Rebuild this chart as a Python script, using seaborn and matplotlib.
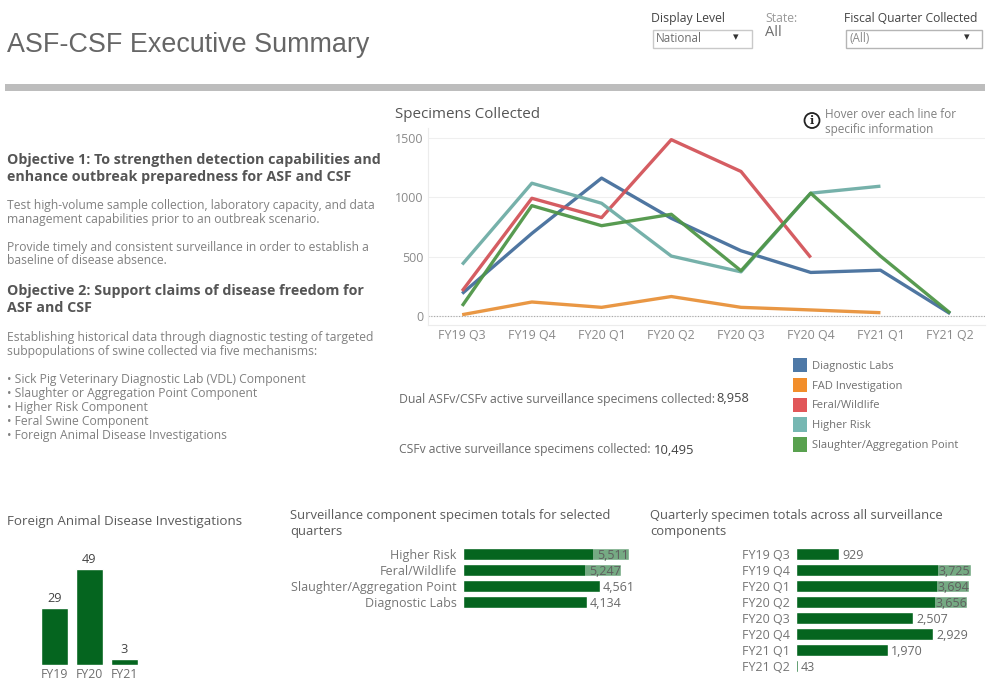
import matplotlib
matplotlib.use("Agg")
import matplotlib.pyplot as plt
from matplotlib.patches import Patch, Rectangle, Circle
import pandas as pd
import seaborn as sns

W, H = 992, 699
sns.set_theme(style="white")
plt.rcParams["font.family"] = ["Open Sans", "DejaVu Sans"]

quarters = ["FY19 Q3", "FY19 Q4", "FY20 Q1", "FY20 Q2", "FY20 Q3", "FY20 Q4", "FY21 Q1", "FY21 Q2"]
diagnostic_labs = [189, 696, 1162, 823, 550, 367, 386, 20]
fad_investigation = [11, 118, 73, 164, 73, 51, 28, None]
feral_wildlife = [211, 992, 829, 1486, 1218, 493, None, None]
higher_risk = [434, 1119, 950, 505, 372, 1035, 1094, None]
slaughter_point = [85, 930, 761, 857, 381, 1035, 505, 25]

component_names = ["Diagnostic Labs", "FAD Investigation", "Feral/Wildlife", "Higher Risk", "Slaughter/Aggregation Point"]
component_colors = ["#4e79a7", "#f28e2b", "#e15759", "#76b7b2", "#59a14f"]
line_colors = ["#456f9c", "#e8923a", "#d3545a", "#6fada6", "#4f9648"]

fad_years = ["FY19", "FY20", "FY21"]
fad_counts = [29, 49, 3]

total_names = ["Higher Risk", "Feral/Wildlife", "Slaughter/Aggregation Point", "Diagnostic Labs"]
total_values = [5511, 5247, 4561, 4134]

quarter_totals = [929, 3725, 3694, 3656, 2507, 2929, 1970, 43]

GREEN = "#05651f"
DARK = "#555555"
MID = "#6e6e6e"
LIGHT = "#8a8a8a"


def box(left, top, right, bottom):
    return [left / W, 1 - bottom / H, (right - left) / W, (bottom - top) / H]


fig = plt.figure(figsize=(W / 100, H / 100), dpi=100, facecolor="white")

# page layer addressed in pixels
page = fig.add_axes([0, 0, 1, 1], zorder=0)
page.set_xlim(0, W)
page.set_ylim(H, 0)
page.axis("off")


def put(x, y, s, size=8, color=MID, weight="normal", ha="left", family=None):
    kw = {"family": family} if family else {}
    return page.text(x, y + 1, s, fontsize=size, color=color, fontweight=weight, ha=ha, va="center", **kw)


put(7, 44, "ASF-CSF Executive Summary", size=19.4, color="#666666", family="Liberation Sans")
page.add_patch(Rectangle((5, 83.5), 980, 7, fc="#bdbdbd", ec="none"))

put(651, 17.5, "Display Level", size=8.8, color="#444444")
page.add_patch(Rectangle((652.5, 29.5), 99, 18, fc="white", ec="#c9c9c9", lw=1))
put(656, 38, "National", size=8.4, color=MID)
put(736, 36.5, "\u25be", size=8, color="#333333", family="DejaVu Sans", ha="center")
put(765, 17.5, "State:", size=8.8, color="#9a9a9a")
put(765, 32, "All", size=10.5, color=MID)
put(844, 17.5, "Fiscal Quarter Collected", size=8.75, color="#444444")
page.add_patch(Rectangle((845.5, 29.5), 136, 18, fc="white", ec="#b5b5b5", lw=1))
put(849, 38, "(All)", size=8.4, color=LIGHT)
put(967, 36.5, "\u25be", size=8, color="#333333", family="DejaVu Sans", ha="center")

# left text column
put(7, 159, "Objective 1: To strengthen detection capabilities and", size=10.25, color=DARK, weight="bold")
put(7, 176, "enhance outbreak preparedness for ASF and CSF", size=10.25, color=DARK, weight="bold")
body = [
    (204, "Test high-volume sample collection, laboratory capacity, and data"),
    (218, "management capabilities prior to an outbreak scenario."),
    (246, "Provide timely and consistent surveillance in order to establish a"),
    (260, "baseline of disease absence."),
    (336, "Establishing historical data through diagnostic testing of targeted"),
    (350, "subpopulations of swine collected via five mechanisms:"),
    (378, "\u2022 Sick Pig Veterinary Diagnostic Lab (VDL) Component"),
    (392, "\u2022 Slaughter or Aggregation Point Component"),
    (406, "\u2022 Higher Risk Component"),
    (420, "\u2022 Feral Swine Component"),
    (434, "\u2022 Foreign Animal Disease Investigations"),
]
for y, s in body:
    put(7, y, s, size=8.75, color="#808080")
put(7, 290, "Objective 2: Support claims of disease freedom for", size=10.25, color=DARK, weight="bold")
put(7, 307, "ASF and CSF", size=10.25, color=DARK, weight="bold")

put(395, 113, "Specimens Collected", size=10.9, color=DARK)
page.add_patch(Circle((812, 120.5), 7.5, fc="white", ec="#222222", lw=1.3))
put(812, 119.5, "i", size=8, color="#222222", weight="bold", ha="center", family="DejaVu Serif")
put(825, 114, "Hover over each line for", size=8.5, color="#808080")
put(825, 128, "specific information", size=8.5, color="#808080")

put(399, 398, "Dual ASFv/CSFv active surveillance specimens collected:", size=8.8, color="#6a6a6a")
put(716, 398, "8,958", size=9.3, color="#444444")
put(399, 449, "CSFv active surveillance specimens collected:", size=8.7, color="#6a6a6a")
put(654, 449, "10,495", size=9.4, color="#444444")

put(7, 521, "Foreign Animal Disease Investigations", size=9.6, color="#5a5a5a")
put(290, 514, "Surveillance component specimen totals for selected", size=9.4, color="#5a5a5a")
put(290, 530, "quarters", size=9.4, color="#5a5a5a")
put(650, 514, "Quarterly specimen totals across all surveillance", size=9.4, color="#5a5a5a")
put(650, 530, "components", size=9.4, color="#5a5a5a")

# line chart
line_df = pd.DataFrame({
    "Quarter": quarters * 5,
    "Component": [n for n in component_names for _ in quarters],
    "Specimens": diagnostic_labs + fad_investigation + feral_wildlife + higher_risk + slaughter_point,
}).dropna()
ax = fig.add_axes(box(428, 128, 985, 325), zorder=1)
ax.patch.set_alpha(0)
sns.lineplot(data=line_df, x="Quarter", y="Specimens", hue="Component", hue_order=component_names,
             palette=line_colors, linewidth=2.4, alpha=0.95, legend=False, sort=False, ax=ax,
             solid_capstyle="butt", errorbar=None)
k = 178 / 1500
ax.set_xlim(-0.49, 7.5)
ax.set_ylim(-9 / k, 188 / k)
ax.set_yticks([0, 500, 1000, 1500])
ax.set_xlabel("")
ax.set_ylabel("")
ax.grid(axis="y", color="#efefef", lw=0.8)
ax.set_axisbelow(True)
ax.axhline(0, color="#a8a8a8", lw=0.8, ls=(0, (1, 1.5)), zorder=1.5)
for side in ("top", "right"):
    ax.spines[side].set_visible(False)
for side in ("left", "bottom"):
    ax.spines[side].set_color("#ececec")
    ax.spines[side].set_linewidth(0.8)
ax.tick_params(axis="both", length=0, labelsize=8.9, labelcolor=LIGHT, pad=3)

# legend
leg = fig.legend(handles=[Patch(fc=c, ec="none", label=n) for n, c in zip(component_names, component_colors)],
                 loc="upper left", bbox_to_anchor=(793 / W, 1 - 358 / H), frameon=False,
                 fontsize=8, labelcolor="#707070", handlelength=1.26, handleheight=1.61,
                 handletextpad=0.45, labelspacing=0.49, borderpad=0, borderaxespad=0)


def clean(a):
    a.patch.set_alpha(0)
    for s in a.spines.values():
        s.set_visible(False)
    a.set_xlabel("")
    a.set_ylabel("")
    a.grid(False)


# FAD column chart
ax_fad = fig.add_axes(box(37, 545, 142, 665), zorder=1)
sns.barplot(x=fad_years, y=fad_counts, color=GREEN, saturation=1, width=0.77, ax=ax_fad)
ax_fad.set_ylim(0, 120 / 1.96)
ax_fad.set_yticks([])
clean(ax_fad)
ax_fad.tick_params(axis="x", length=0, labelsize=8.8, labelcolor=MID, pad=2)
ax_fad.bar_label(ax_fad.containers[0], padding=2, fontsize=9.2, color="#444444")


def hbar(a, names, values, xmax, fit_limit, chip):
    sns.barplot(x=values, y=names, color=GREEN, saturation=1, width=0.75, ax=a, orient="h")
    a.set_xticks([])
    clean(a)
    a.tick_params(axis="y", length=0, labelsize=9, labelcolor="#757575", pad=4)
    for i, v in enumerate(values):
        label = f"{v:,}"
        if v > fit_limit:
            a.barh(i, chip, left=v - chip, height=0.75, color="white", alpha=0.45, lw=0, zorder=3)
            a.annotate(label, (v, i), xytext=(0, -1), textcoords="offset points", ha="right", va="center",
                       fontsize=9, color="#5f5f5f", zorder=4)
        else:
            a.annotate(label, (v, i), xytext=(2, -1), textcoords="offset points", ha="left", va="center",
                       fontsize=9, color="#6a6a6a")
    a.set_xlim(0, xmax)
    a.set_ylim(len(values) - 0.5, -0.5)


ax_mid = fig.add_axes(box(462.5, 546, 643.5, 610), zorder=1)
hbar(ax_mid, total_names, total_values, 6000, 5000, 1190)

ax_right = fig.add_axes(box(795.5, 546, 983.5, 674), zorder=1)
hbar(ax_right, quarters, quarter_totals, 4000, 3000, 690)

fig.savefig("out.png", dpi=100, facecolor="white")
